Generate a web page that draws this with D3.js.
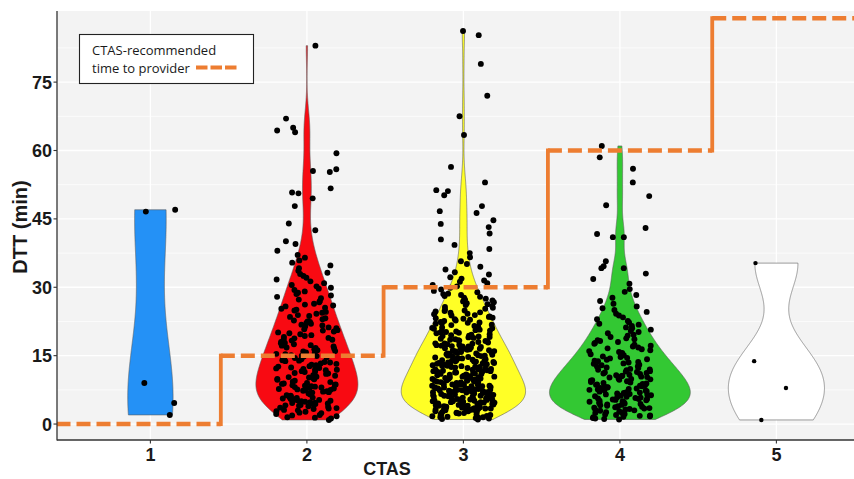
<!DOCTYPE html>
<html>
<head>
<meta charset="utf-8">
<script src="https://cdn.jsdelivr.net/npm/d3@7"></script>
<style>
  html, body { margin: 0; padding: 0; background: #ffffff; }
  svg { display: block; }
</style>
</head>
<body>
<svg id="chart" width="854" height="479"></svg>
<script>
// ---------------- DATA ----------------
const categories = ["1", "2", "3", "4", "5"];
const yTickValues = [0, 15, 30, 45, 60, 75];

// DTT (min) observations per CTAS level
const ctas1 = [2.0, 4.6, 9.0, 46.6, 47.0];
const ctas2 = [
  0.9, 1.2, 1.4, 1.5, 1.7, 1.9, 2.0, 2.2, 2.4, 2.5, 2.7, 2.8, 3.0, 3.1, 3.3, 3.4, 3.5, 3.6,
  3.8, 3.9, 4.0, 4.1, 4.2, 4.3, 4.4, 4.5, 4.6, 4.7, 4.8, 4.9, 5.0, 5.1, 5.2, 5.3, 5.4, 5.5, 5.6, 5.7, 5.8, 5.9, 6.0, 6.2, 6.3, 6.5, 6.7,
  6.9, 7.0, 7.1, 7.2, 7.3, 7.4, 7.5, 7.6, 7.7, 7.8, 7.9, 8.0, 8.1, 8.2, 8.3, 8.4, 8.5, 8.6, 8.7, 8.8, 8.9, 9.0, 9.2, 9.3, 9.5,
  9.7, 9.8, 9.9, 10.0, 10.2, 10.3, 10.4, 10.6, 10.7, 10.8, 11.0, 11.1, 11.2, 11.4, 11.5, 11.6, 11.8, 11.9, 12.0, 12.1, 12.2, 12.3, 12.4,
  12.6, 12.7, 12.9, 13.0, 13.2, 13.3, 13.5, 13.6, 13.8, 13.9, 14.0, 14.2, 14.3, 14.5, 14.6, 14.8, 14.9, 15.0, 15.1, 15.3, 15.4,
  15.6, 15.7, 15.9, 16.0, 16.2, 16.4, 16.5, 16.7, 16.8, 17.0, 17.2, 17.3, 17.5, 17.7, 17.8, 18.0, 18.1, 18.3, 18.5, 18.6, 18.8, 18.9,
  19.1, 19.3, 19.5, 19.7, 19.9, 20.1, 20.3, 20.5, 20.6, 20.8, 21.0, 21.2, 21.4, 21.6, 21.8, 22.0, 22.2, 22.4, 22.5, 22.7,
  23.0, 23.2, 23.5, 23.7, 23.9, 24.2, 24.4, 24.6, 24.9, 25.1, 25.3, 25.5, 25.8, 26.0, 26.2, 26.4,
  26.7, 27.0, 27.3, 27.6, 27.9, 28.2, 28.5, 28.8, 29.1, 29.4, 29.7, 29.9,
  30.2, 30.5, 30.9, 31.3, 31.7, 32.1, 32.5, 32.9, 33.2, 33.6,
  34.2, 34.8, 35.4, 35.9, 36.5, 37.1, 38.0, 39.5, 40.1, 42.5, 44.0,
  47.8, 49.5, 50.6, 50.8, 51.7, 55.3, 55.5, 55.9, 59.4, 64.0, 64.4, 65.0, 67.0, 83.0
];
const ctas3 = [
  1.0, 1.1, 1.2, 1.3, 1.4, 1.5, 1.5, 1.6, 1.7, 1.8, 1.9, 2.0, 2.0, 2.1, 2.2, 2.3, 2.4, 2.4, 2.5, 2.6, 2.7, 2.8, 2.8, 2.9, 3.0, 3.0, 3.1, 3.2, 3.2, 3.3, 3.3, 3.4, 3.4, 3.5, 3.5, 3.6, 3.6, 3.7,
  3.8, 3.8, 3.9, 3.9, 4.0, 4.0, 4.1, 4.1, 4.2, 4.2, 4.3, 4.4, 4.4, 4.5, 4.5, 4.6, 4.7, 4.7, 4.8, 4.8, 4.9, 5.0, 5.0, 5.1, 5.1, 5.2, 5.3, 5.3, 5.4, 5.4, 5.5, 5.6, 5.6, 5.7, 5.7, 5.8, 5.9, 5.9, 6.0, 6.0, 6.1, 6.2, 6.2, 6.3, 6.3, 6.4, 6.5, 6.5, 6.6, 6.6, 6.7, 6.8, 6.8, 6.9,
  7.0, 7.0, 7.1, 7.1, 7.2, 7.2, 7.3, 7.4, 7.4, 7.5, 7.5, 7.6, 7.7, 7.7, 7.8, 7.8, 7.9, 8.0, 8.0, 8.1, 8.1, 8.2, 8.3, 8.3, 8.4, 8.4, 8.5, 8.6, 8.6, 8.7, 8.7, 8.8, 8.9, 8.9, 9.0, 9.0, 9.1, 9.2, 9.2, 9.3, 9.3, 9.4, 9.5, 9.5, 9.6, 9.6, 9.7, 9.8, 9.8, 9.9, 9.9, 10.0, 10.1, 10.2,
  10.3, 10.4, 10.4, 10.5, 10.6, 10.7, 10.7, 10.8, 10.9, 11.0, 11.0, 11.1, 11.2, 11.3, 11.3, 11.4, 11.5, 11.6, 11.6, 11.7, 11.8, 11.9, 11.9, 12.0, 12.1, 12.2, 12.2, 12.3, 12.4, 12.5, 12.5, 12.6, 12.7, 12.8, 12.8, 12.9, 13.0, 13.1, 13.1, 13.2, 13.3, 13.4, 13.4, 13.5, 13.6, 13.7, 13.7, 13.8, 13.9, 13.9, 14.0, 14.0,
  14.1, 14.2, 14.3, 14.4, 14.5, 14.6, 14.7, 14.8, 14.9, 15.0, 15.0, 15.1, 15.2, 15.3, 15.4, 15.5, 15.5, 15.6, 15.7, 15.8, 15.9, 16.0, 16.0, 16.1, 16.2, 16.3, 16.4, 16.5, 16.5, 16.6, 16.7, 16.8, 16.9, 17.0, 17.0, 17.1, 17.2, 17.3, 17.4, 17.5, 17.6, 17.7, 17.7,
  17.9, 18.0, 18.1, 18.2, 18.3, 18.4, 18.5, 18.6, 18.7, 18.9, 19.0, 19.1, 19.2, 19.3, 19.4, 19.5, 19.6, 19.7, 19.9, 20.0, 20.1, 20.2, 20.3, 20.4, 20.5, 20.6, 20.7, 20.9, 21.0, 21.1, 21.2,
  21.4, 21.5, 21.7, 21.8, 22.0, 22.1, 22.2, 22.3, 22.4, 22.6, 22.7, 22.9, 23.0, 23.1, 23.2, 23.3, 23.5, 23.6, 23.8, 23.9, 24.1, 24.2, 24.4, 24.5, 24.7, 24.8, 24.9,
  25.1, 25.3, 25.5, 25.7, 25.9, 26.1, 26.3, 26.5, 26.7, 26.9, 27.1, 27.3, 27.5, 27.7, 27.9, 28.1, 28.3, 28.5, 28.6,
  28.9, 29.2, 29.5, 29.9, 30.2, 30.5, 30.9, 31.2, 31.5, 31.9, 32.2,
  32.8, 33.3, 33.9, 34.5, 35.1, 35.7, 36.6, 37.5, 38.4, 39.3,
  40.5, 41.8, 43.2, 43.9, 44.7, 46.3, 46.7, 47.8, 50.2, 51.1, 51.3, 53.0,
  56.4, 63.4, 67.5, 72.0, 79.0, 85.3, 86.2
];
const ctas4 = [
  1.0, 1.1, 1.2, 1.3, 1.5, 1.6, 1.7, 1.8, 1.9, 2.0, 2.1, 2.2, 2.4, 2.5, 2.6, 2.8, 2.9,
  3.0, 3.1, 3.2, 3.3, 3.4, 3.5, 3.6, 3.7, 3.8, 3.9, 4.0, 4.1, 4.2, 4.3, 4.4, 4.5, 4.6, 4.7, 4.8, 4.9, 5.0, 5.1, 5.2, 5.3, 5.4, 5.5, 5.5, 5.6, 5.7, 5.8, 5.9,
  6.0, 6.1, 6.2, 6.3, 6.4, 6.5, 6.6, 6.7, 6.8, 6.9, 7.0, 7.1, 7.2, 7.3, 7.4, 7.5, 7.6, 7.7, 7.8, 7.9, 8.0, 8.1, 8.2, 8.3, 8.4, 8.5, 8.6, 8.7, 8.8, 8.9,
  9.0, 9.1, 9.2, 9.4, 9.5, 9.6, 9.7, 9.8, 9.9, 10.0, 10.2, 10.3, 10.4, 10.5, 10.6, 10.7, 10.8, 11.0, 11.1, 11.2, 11.3, 11.4, 11.5, 11.6, 11.8, 11.9,
  12.0, 12.1, 12.3, 12.4, 12.6, 12.7, 12.9, 13.0, 13.2, 13.3, 13.5, 13.6, 13.8, 13.9, 14.1, 14.2, 14.4, 14.5, 14.7, 14.8, 15.0, 15.1, 15.3, 15.4,
  15.6, 15.8, 16.0, 16.2, 16.4, 16.6, 16.8, 17.0, 17.2, 17.4, 17.6, 17.8, 18.0, 18.2, 18.4, 18.6, 18.8,
  19.1, 19.4, 19.6, 19.9, 20.2, 20.4, 20.7, 21.0, 21.2, 21.5, 21.8, 22.0, 22.3, 22.6,
  23.0, 23.4, 23.8, 24.2, 24.6, 25.0, 25.4, 25.8,
  26.4, 27.0, 27.7, 28.3, 29.0, 29.6, 30.8, 31.8, 33.0,
  34.2, 34.2, 34.6, 35.7, 41.0, 41.0, 41.7, 43.0, 48.0, 50.0, 53.0, 56.0, 58.5, 61.0
];
const ctas5 = [0.9, 7.9, 13.8, 35.3];

// CTAS-recommended time to provider (step line)
const stepBreaks = [0.4, 1.45, 2.49, 3.54, 4.59, 5.6];
const recommendedTime = [0, 15, 30, 60, 89];

const legendLines = ["CTAS-recommended", "time to provider"];

// ---------------- STYLE ----------------
const fillColors = ["#2491F6", "#F80A12", "#FFFF26", "#33C833", "#FFFFFF"];
const orange = "#ED7D31";
const axisFont = "'Liberation Sans', Arial, sans-serif";

// ---------------- LAYOUT ----------------
const W = 854, H = 479;
const panel = { left: 57, top: 11, right: 872, bottom: 440 };

const svg = d3.select("#chart");
const x = d3.scaleLinear().domain([0.4, 5.6]).range([56.5, 56.5 + 5.2 * 156.5]);
const y = d3.scaleLinear().domain([-3.5, 90.6]).range([panel.bottom, panel.top]);

// panel background
svg.append("rect")
  .attr("x", panel.left).attr("y", panel.top)
  .attr("width", panel.right - panel.left).attr("height", panel.bottom - panel.top)
  .attr("fill", "#F3F3F3");

svg.append("defs").append("clipPath").attr("id", "clip")
  .append("rect")
  .attr("x", panel.left).attr("y", panel.top)
  .attr("width", panel.right - panel.left).attr("height", panel.bottom - panel.top);

const grid = svg.append("g").attr("clip-path", "url(#clip)");
const minor = yTickValues.map(v => v + 7.5);
grid.selectAll("line.minor").data(minor).join("line")
  .attr("x1", panel.left).attr("x2", panel.right)
  .attr("y1", d => y(d)).attr("y2", d => y(d))
  .attr("stroke", "#FFFFFF").attr("stroke-width", 0.7);
grid.selectAll("line.major").data(yTickValues).join("line")
  .attr("x1", panel.left).attr("x2", panel.right)
  .attr("y1", d => y(d)).attr("y2", d => y(d))
  .attr("stroke", "#FFFFFF").attr("stroke-width", 1.3);
grid.selectAll("line.vmajor").data(categories).join("line")
  .attr("x1", (d, i) => x(i + 1)).attr("x2", (d, i) => x(i + 1))
  .attr("y1", panel.top).attr("y2", panel.bottom)
  .attr("stroke", "#FFFFFF").attr("stroke-width", 1.3);

// ---------------- VIOLINS (KDE, ggplot-like) ----------------
const groups = [ctas1, ctas2, ctas3, ctas4, ctas5];

function bwNrd0(v) {
  const s = v.slice().sort(d3.ascending);
  const sd = d3.deviation(s);
  const iqr = d3.quantileSorted(s, 0.75) - d3.quantileSorted(s, 0.25);
  let lo = Math.min(sd, iqr / 1.34);
  if (!(lo > 0)) lo = sd || Math.abs(s[0]) || 1;
  return 0.9 * lo * Math.pow(s.length, -0.2);
}
function kde(v) {
  const bw = bwNrd0(v);
  const lo = d3.min(v), hi = d3.max(v);
  const n = 512;
  const c = 1 / (v.length * bw * Math.sqrt(2 * Math.PI));
  const out = [];
  for (let k = 0; k < n; k++) {
    const t = lo + (hi - lo) * k / (n - 1);
    let s = 0;
    for (const xi of v) { const z = (t - xi) / bw; s += Math.exp(-0.5 * z * z); }
    out.push([t, s * c]);
  }
  return out;
}
const dens = groups.map(kde);
const maxD = d3.max(dens, d => d3.max(d, p => p[1]));

const plot = svg.append("g").attr("clip-path", "url(#clip)");
dens.forEach((dd, i) => {
  const cx = i + 1;
  const right = dd.map(p => [x(cx + p[1] / maxD * 0.45), y(p[0])]);
  const left = dd.slice().reverse().map(p => [x(cx - p[1] / maxD * 0.45), y(p[0])]);
  plot.append("path")
    .attr("d", d3.line()(right.concat(left)) + "Z")
    .attr("fill", fillColors[i])
    .attr("stroke", "#5a5a5a")
    .attr("stroke-width", 0.6);
});

// ---------------- JITTERED POINTS ----------------
// deterministic hash-based horizontal jitter (like geom_jitter, width 0.2)
function hashJitter(k, g) {
  const s = Math.sin(k * 12.9898 + g * 78.233 + 1.7) * 43758.5453;
  return s - Math.floor(s) - 0.5;
}
groups.forEach((vals, i) => {
  const cx = i + 1;
  plot.append("g").selectAll("circle").data(vals).join("circle")
    .attr("cx", (d, k) => x(cx + hashJitter(k, i) * 0.4))
    .attr("cy", d => y(d))
    .attr("r", i === 4 ? 2.2 : 2.95)
    .attr("fill", "#000000");
});

// ---------------- STEP LINE ----------------
recommendedTime.forEach((v, i) => {
  plot.append("line")
    .attr("x1", x(stepBreaks[i])).attr("x2", x(stepBreaks[i + 1]))
    .attr("y1", y(v)).attr("y2", y(v))
    .attr("stroke", orange).attr("stroke-width", 4.5)
    .attr("stroke-dasharray", "14,6");
  if (i < recommendedTime.length - 1) {
    plot.append("line")
      .attr("x1", x(stepBreaks[i + 1])).attr("x2", x(stepBreaks[i + 1]))
      .attr("y1", y(v) + 2).attr("y2", y(recommendedTime[i + 1]) - 2)
      .attr("stroke", orange).attr("stroke-width", 3.8);
  }
});

// ---------------- AXES ----------------
const axisColor = "#333333";
svg.append("line").attr("x1", panel.left).attr("x2", panel.left)
  .attr("y1", panel.top).attr("y2", panel.bottom + 0.5)
  .attr("stroke", axisColor).attr("stroke-width", 1.3);
svg.append("line").attr("x1", panel.left).attr("x2", W)
  .attr("y1", panel.bottom).attr("y2", panel.bottom)
  .attr("stroke", axisColor).attr("stroke-width", 1.3);

svg.append("g").selectAll("line").data(yTickValues).join("line")
  .attr("x1", panel.left - 3.5).attr("x2", panel.left)
  .attr("y1", d => y(d)).attr("y2", d => y(d))
  .attr("stroke", axisColor).attr("stroke-width", 1.1);
svg.append("g").selectAll("text").data(yTickValues).join("text")
  .attr("x", 52).attr("y", d => y(d) + 6.5)
  .attr("text-anchor", "end")
  .attr("font-family", axisFont).attr("font-weight", "bold").attr("font-size", 18)
  .attr("fill", "#1a1a1a")
  .text(d => d);

svg.append("g").selectAll("line").data(categories).join("line")
  .attr("x1", (d, i) => x(i + 1)).attr("x2", (d, i) => x(i + 1))
  .attr("y1", panel.bottom).attr("y2", panel.bottom + 3.5)
  .attr("stroke", axisColor).attr("stroke-width", 1.1);
svg.append("g").selectAll("text").data(categories).join("text")
  .attr("x", (d, i) => x(i + 1)).attr("y", 461)
  .attr("text-anchor", "middle")
  .attr("font-family", axisFont).attr("font-weight", "bold").attr("font-size", 18)
  .attr("fill", "#1a1a1a")
  .text(d => d);

svg.append("text")
  .attr("x", 387).attr("y", 475)
  .attr("text-anchor", "middle")
  .attr("font-family", axisFont).attr("font-weight", "bold").attr("font-size", 18)
  .attr("fill", "#1a1a1a")
  .text("CTAS");

svg.append("text")
  .attr("transform", "translate(27,227) rotate(-90)")
  .attr("text-anchor", "middle")
  .attr("font-family", axisFont).attr("font-weight", "bold").attr("font-size", 20)
  .attr("fill", "#1a1a1a")
  .text("DTT (min)");

// ---------------- LEGEND ----------------
const lg = svg.append("g");
lg.append("rect").attr("x", 79.5).attr("y", 34.5).attr("width", 174).attr("height", 49)
  .attr("fill", "#FFFFFF").attr("stroke", "#222222").attr("stroke-width", 1.1);
lg.selectAll("text").data(legendLines).join("text")
  .attr("x", 92).attr("y", (d, i) => 55 + i * 18)
  .attr("font-family", "'Open Sans', 'Noto Sans', sans-serif")
  .attr("font-size", 13)
  .attr("fill", "#1a1a1a")
  .text(d => d);
lg.append("line").attr("x1", 196).attr("x2", 237).attr("y1", 67.5).attr("y2", 67.5)
  .attr("stroke", orange).attr("stroke-width", 4.2).attr("stroke-dasharray", "11.5,3");
</script>
</body>
</html>
